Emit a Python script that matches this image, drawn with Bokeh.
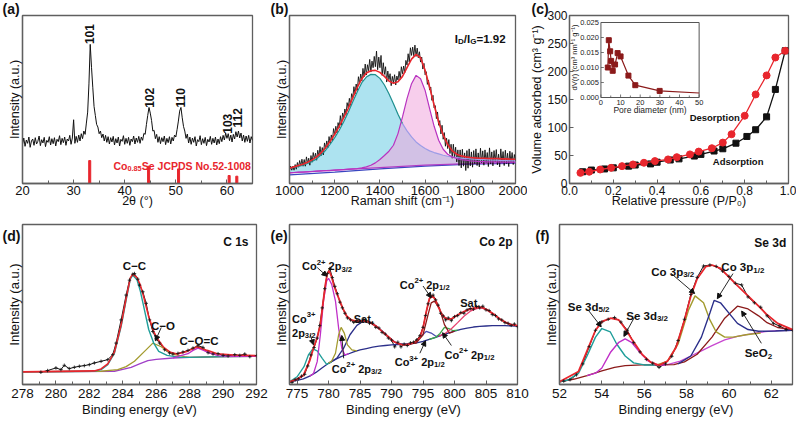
from bokeh.plotting import figure
from bokeh.layouts import row, column
from bokeh.models import FixedTicker, Label, Arrow, NormalHead, PrintfTickFormatter, Range1d
from bokeh.core.properties import value
from bokeh.embed import file_html
from bokeh.resources import INLINE

FONT = "Liberation Sans"
FRAME = "#5f5f5f"
RED = "#e8262d"

# ---------------- (a) XRD ----------------
XRD_START = 20.0
XRD_STEP = 0.25
XRD_INTENSITY = [
    118,137,112,131,121,140,109,128,134,115,138,119,127,143,114,132,122,139,111,130,
    124,141,116,135,120,138,113,133,126,144,117,136,123,140,115,134,128,145,118,137,
    192,121,142,124,146,128,150,135,158,148,182,215,300,419,350,290,232,205,178,170,
    150,158,138,149,128,145,124,141,119,138,125,142,116,135,122,140,113,133,127,144,
    118,136,121,139,115,134,126,143,119,137,124,142,121,140,130,151,148,178,205,229,
    212,190,158,160,135,148,124,141,120,138,126,143,117,136,123,141,119,139,128,146,
    140,163,188,218,229,198,172,158,136,149,122,140,118,137,124,141,113,132,126,144,
    117,135,121,139,114,133,125,142,118,136,122,140,116,134,120,141,126,145,131,152,
    136,150,129,146,125,148,134,156,140,158,137,152,128,146,124,143,127,145,122,141,
    130]
REF_2THETA = [33.15, 44.67, 50.53, 60.43, 61.93]
REF_HEIGHT = [69, 52, 44, 24, 22]
HKL = ["101", "102", "110", "103", "112"]
HKL_X = [33.1, 44.85, 50.9, 60.1, 62.1]
HKL_Y = [450, 258, 258, 180, 198]

# ---------------- (b) Raman ----------------
RAMAN_START = 1000
RAMAN_STEP = 5
RAMAN_INTENSITY = [
    40,52,40,52,40,57,43,63,49,69,53,73,52,72,52,80,60,76,55,84,
    64,93,73,91,70,100,81,111,84,108,86,122,105,128,108,141,121,146,128,165,
    146,172,152,183,168,204,176,212,197,224,207,243,227,256,235,270,256,291,269,299,
    280,321,299,329,308,346,321,359,326,357,339,373,335,368,348,382,351,398,342,380,
    348,385,325,363,328,351,305,338,312,330,294,322,303,327,296,323,311,337,313,351,
    330,353,333,370,356,390,365,408,385,410,384,416,382,407,378,396,365,380,344,361,
    327,336,298,311,281,290,250,265,227,234,195,215,175,189,149,175,133,153,112,136,
    105,132,90,118,76,118,79,109,65,101,54,101,47,103,52,92,39,99,46,104,
    53,95,49,99,59,104,54,92,50,106,62,98,55,101,63,93,51,107,59,95,
    53,99,65,102,56,88,50,104,62,96,54,100,60,91,51,97,63,93,57,87,
    67]
FIT_START = 1000
FIT_STEP = 20
D_BAND = [45,48,51,55,60,66,74,86,100,118,138,160,186,214,246,276,303,320,328,327,
          316,296,270,240,208,180,158,140,125,114,105,98,93,89,85,82,80,78,76,75,
          74,73,72,72,71,70,70,69,69,68,68]
G_BAND = [32,33,34,34,35,36,37,38,39,39,40,41,42,43,44,45,47,50,55,62,
          72,84,97,115,150,200,255,300,325,315,280,225,172,130,103,88,80,75,72,70,
          68,67,66,66,65,65,65,64,64,64,64]
RAMAN_FIT = [46,50,54,58,64,71,80,92,108,127,148,172,198,226,258,289,315,332,339,340,
             334,322,308,301,306,322,348,374,388,378,340,290,235,185,146,117,98,88,83,80,
             78,77,76,76,75,75,75,74,74,73,73]
BG_SHIFT = [1000, 1200, 1400, 1600, 1800, 2000]
BG_MAGENTA = [32, 40, 48, 55, 60, 63]
BG_BLUE = [26, 34, 44, 52, 58, 61]

# ---------------- (c) N2 isotherm ----------------
ADS_P = [0.06,0.10,0.16,0.20,0.27,0.30,0.37,0.40,0.46,0.50,0.57,0.60,0.66,0.70,0.76,0.81,0.85,0.90,0.94,0.985]
ADS_V = [21,24,26,28,31,33,35,38,42,44,49,52,58,62,72,84,96,119,168,237]
DES_P = [0.05,0.09,0.14,0.19,0.24,0.29,0.34,0.39,0.45,0.49,0.55,0.59,0.65,0.70,0.74,0.80,0.85,0.90,0.94,0.985]
DES_V = [19,21,25,28,31,34,37,40,43,47,52,57,63,73,88,121,159,193,225,237]
PORE_D = [3.5,4.0,4.7,5.2,6.0,7.2,8.5,10.0,14.0,17.5,29.9,50.0]
PORE_DV = [0.0100,0.0191,0.0154,0.0122,0.0089,0.0110,0.0148,0.0137,0.0073,0.0041,0.0022,0.0015]
INSET_XTICKS = [0, 10, 20, 30, 40, 50]
INSET_XLABELS = ["0", "10", "20", "30", "40", "50"]
INSET_YTICKS = [0.0, 0.005, 0.010, 0.015, 0.020, 0.025]
INSET_YLABELS = ["0.000", "0.005", "0.010", "0.015", "0.020", "0.025"]

# ---------------- (d) C 1s ----------------
D_BG_X = [278,283.5,284,284.5,285,285.5,286,287,288,290,292]
D_BG_Y = [38,40,46,52,62,72,76,80,82,84,85]
D_CC_X = [278,282.3,282.7,283.1,283.5,283.9,284.2,284.45,284.6,284.85,285.05,285.25,285.55,285.85,286.15,286.65,287.45,288,290,292]
D_CC_Y = [38,40,45,60,95,175,255,318,330,316,282,236,166,125,100,88,82,82,84,85]
D_CO_X = [278,282.7,283.7,284.2,284.7,285.3,285.8,286.3,286.7,287.1,287.7,288,290,292]
D_CO_Y = [38,40,45,54,70,100,125,114,100,90,84,82,84,85]
D_COC_X = [287,287.3,287.9,288.2,288.5,288.8,289.1,289.7,290.3,292]
D_COC_Y = [80,85,93,103,110,104,97,87,85,85]
D_FIT_X = [278,282.3,282.7,283.1,283.5,283.9,284.2,284.45,284.6,284.85,285.05,285.25,285.55,285.85,286.05,286.45,286.85,287.25,287.85,288.45,289.05,289.65,290.65,292]
D_FIT_Y = [38,41,47,62,98,180,260,322,333,323,300,265,205,160,140,112,97,92,100,114,103,93,89,87]
D_EXP_X = [279.1,279.5,280.0,280.3,280.5,280.8,281.1,281.4,281.7,282.0,282.3,282.7,283.1,283.4,283.6,283.9,284.2,284.4,284.6,284.7,
           284.9,285.0,285.2,285.4,285.6,285.8,286.0,286.2,286.5,286.8,287.0,287.3,287.6,287.9,288.2,288.5,288.8,289.1,289.4,289.7,
           290.0,290.3,290.7,291.0,291.3,291.6,292.0]
D_EXP_Y = [37,42,50,45,58,48,52,55,57,60,65,70,75,90,125,195,270,315,333,335,
           318,300,280,245,195,160,138,125,105,95,92,94,98,103,110,117,112,96,92,93,
           88,86,90,88,92,84,87]

# ---------------- (e) Co 2p ----------------
E_BG_X = [773.8,775,776,777,778,779,780,781,782,783,784,785,786,787,788,789,790,791,792,793,794,795,796,797,798,799,800,801,802,803,804,805,806,808,810]
E_BG_Y = [8,12,17,25,36,50,63,74,83,90,97,103,107,111,114,116,118,119,120,121,124,128,134,140,147,153,159,164,168,171,173,174,175,175,174]
E_SAT1_X = [780,781,781.3,782.4,783.4,784.5,785.5,786.6,787.6,788.7,789.7,790.8,791.8,793]
E_SAT1_Y = [63,74,78,108,148,176,188,186,173,156,138,123,119,121]
E_CO3A_X = [773.8,775,776.1,776.8,777.5,778.2,779,779.7,780.5]
E_CO3A_Y = [8,23,53,88,106,100,78,60,68]
E_CO2A_X = [777,777.6,778.2,778.7,779.2,779.7,780,780.5,781.1,781.6,782.1,782.6,783.2]
E_CO2A_Y = [25,32,68,148,248,308,316,298,248,168,108,88,92]
E_CO2B_X = [780,780.5,781.1,781.6,782,782.5,783,783.7,784.5]
E_CO2B_Y = [63,70,93,148,170,153,118,103,100]
E_CO2C_X = [792.5,793.9,795,795.8,796.3,796.8,797.6,798.4,799.2,800]
E_CO2C_Y = [120,123,148,208,243,248,228,178,153,159]
E_CO3B_X = [793,793.9,794.7,795.5,796.3,797.1,798]
E_CO3B_Y = [121,126,143,158,153,143,147]
E_CO2D_X = [796,797,797.7,798.4,799.1,799.8,800.5]
E_CO2D_Y = [134,140,152,170,166,160,162]
E_SAT2_X = [797.5,798.5,799.5,800.5,801.5,802.5,803.5,804.3,805.2,806.2,807.2,808.2,809,810]
E_SAT2_Y = [143,152,166,184,203,218,226,228,221,209,195,184,178,175]
E_FIT_X = [773.8,775,776,777,777.6,778.2,778.7,779.1,779.5,779.8,780.1,780.5,780.8,781.3,781.8,782.3,782.9,783.6,784.5,785.5,
           786.5,787.6,788.5,789.5,790.3,791.2,791.8,792.8,793.9,794.5,795,795.5,796,796.4,796.9,797.4,797.9,798.4,799,799.6,
           800.4,801.5,802.5,803.5,804.3,805.2,806.2,807.2,808.2,809,810]
E_FIT_Y = [8,16,27,70,108,140,178,240,298,330,338,320,298,272,248,225,203,192,188,190,
           185,173,158,142,128,121,118,119,128,140,168,215,255,264,255,232,212,200,194,196,
           206,217,225,229,230,222,210,195,184,178,175]
E_EXP_X = [774.2,774.7,775.2,775.7,776.2,776.7,777.2,777.7,778.2,778.6,779.0,779.4,779.8,780.2,780.6,781.0,781.4,781.8,782.2,782.6,
           783.0,783.5,784.0,784.5,785.0,785.5,786.0,786.5,787.0,787.5,788.0,788.5,789.0,789.5,790.0,790.5,791.0,791.5,792.0,792.5,
           793.0,793.5,794.0,794.5,795.0,795.4,795.8,796.2,796.6,797.0,797.4,797.8,798.2,798.6,799.0,799.5,800.0,800.5,801.0,801.5,
           802.0,802.5,803.0,803.5,804.0,804.5,805.0,805.5,806.0,806.5,807.0,807.5,808.0,808.5,809.0,809.5,810.0]
E_EXP_Y = [6,14,17,25,30,55,88,110,138,175,228,285,330,345,318,292,270,245,228,212,
           198,192,185,190,186,194,190,182,182,170,168,155,150,138,132,112,126,112,120,116,
           124,126,133,145,170,205,240,262,266,252,236,212,204,192,198,190,202,205,214,212,
           222,226,224,232,228,233,222,220,208,205,195,192,184,182,176,180,172]

# ---------------- (f) Se 3d ----------------
F_BG_X = [52,52.7,53.3,54,54.6,55.1,55.9,56.6,57.4,57.9,58.5,59.2,59.8,60.4,60.9,61.4,61.8,62.3,63]
F_BG_Y = [8,16,26,40,50,55,57,57,58,66,88,138,193,228,220,200,180,166,160]
F_BG2_X = [56.4,57.1,57.7,58.2,58.7,59.2,59.8,60.4,61.1,61.7,62.3,63]
F_BG2_Y = [57,58,68,83,98,113,130,140,148,154,157,158]
F_SE52_X = [52,52.4,52.9,53.3,53.7,54,54.4,54.7,55.1,55.5,56,56.5]
F_SE52_Y = [8,13,33,83,138,163,153,118,83,63,57,57]
F_SE32_X = [53.3,53.7,54,54.4,54.8,55.1,55.4,55.8,56.2,56.6,57]
F_SE32_Y = [26,33,48,93,123,133,123,93,68,58,57]
F_CO32_X = [56.6,57.1,57.6,58.1,58.4,58.8,59.1,59.4,59.8,60.2,60.8,61.5]
F_CO32_Y = [57,68,118,218,258,238,188,153,138,138,145,150]
F_CO12_X = [57.6,58.2,58.7,59.1,59.3,59.6,60,60.4,60.9,61.4,62.2,63]
F_CO12_Y = [60,83,138,208,245,238,208,178,160,155,156,158]
F_FIT_X = [52,52.9,53.3,53.7,54,54.4,54.8,55.1,55.4,55.9,56.3,56.7,57.1,57.5,57.9,58.2,58.5,58.9,59.2,59.6,60,60.4,60.9,61.4,61.8,62.3,63]
F_FIT_Y = [8,38,98,158,183,193,188,163,133,88,65,56,68,108,188,258,308,343,348,338,313,288,258,228,203,178,160]
F_EXP_X = [52.2,52.5,52.8,53.1,53.4,53.7,54.0,54.3,54.6,54.9,55.2,55.5,55.8,56.1,56.4,56.7,57.0,57.3,57.6,57.9,
           58.2,58.5,58.8,59.1,59.4,59.7,60.0,60.3,60.6,60.9,61.2,61.5,61.8,62.1,62.4,62.7,63.0]
F_EXP_Y = [10,14,28,60,110,158,182,190,195,182,158,122,95,73,62,50,60,82,128,190,
           262,312,345,348,344,330,315,295,290,255,238,225,200,178,170,160,158]

PANEL_TAGS = ["(a)", "(b)", "(c)", "(d)", "(e)", "(f)"]

# ---------------- helpers ----------------
_W_REG = dict(zip("abcdefghijklmnopqrstuvwxyz", [556,556,500,556,556,278,556,556,222,222,500,222,833,556,556,556,556,333,500,278,556,500,722,500,500,500]))
_W_REG.update(zip("ABCDEFGHIJKLMNOPQRSTUVWXYZ", [667,667,722,722,667,611,778,722,278,500,667,556,833,722,778,667,778,722,667,611,722,667,944,667,667,611]))
_W_BOLD = dict(zip("abcdefghijklmnopqrstuvwxyz", [556,611,556,611,556,333,611,611,278,278,556,278,889,611,611,611,611,389,556,333,611,556,778,556,556,500]))
_W_BOLD.update(zip("ABCDEFGHIJKLMNOPQRSTUVWXYZ", [722,722,722,722,667,611,778,722,278,556,722,611,833,722,778,667,778,722,667,611,722,667,944,667,667,611]))
for _d in (_W_REG, _W_BOLD):
    _d.update({c: 556 for c in "0123456789"})
    _d.update({' ': 278, '.': 278, '/': 278, '(': 333, ')': 333, '+': 584, '=': 584, '\u2212': 584, '-': 333})


def twidth(s, fs, bold):
    t = _W_BOLD if bold else _W_REG
    return sum(t.get(ch, 580) for ch in s) * fs / 1000.0


def rich(p, x, y, segs, fs=11, bold=True, color="#111111", align="left", **kw):
    sizes = [fs if k == "n" else fs * 0.7 for _, k in segs]
    widths = [twidth(t, s, bold) for (t, _), s in zip(segs, sizes)]
    total = sum(widths)
    cx = {"left": 0.0, "center": -total / 2, "right": -total}[align]
    for (t, k), s, w in zip(segs, sizes, widths):
        lead = len(t) - len(t.lstrip(" "))
        core = t.strip(" ")
        dy = {"n": 0.0, "sub": -0.24 * fs, "sup": 0.38 * fs}[k] - 0.36 * fs
        if core:
            p.add_layout(Label(x=x, y=y, x_offset=cx + twidth(" " * lead, s, bold), y_offset=dy, text=core,
                               text_font=FONT, text_font_size=f"{s:.1f}px",
                               text_font_style="bold" if bold else "normal",
                               text_color=color, text_align="left", text_baseline="alphabetic", **kw))
        cx += w


def arrow(p, x0, y0, x1, y1):
    p.add_layout(Arrow(end=NormalHead(size=5, line_color="#111111", fill_color="#111111", line_width=1),
                       x_start=x0, y_start=y0, x_end=x1, y_end=y1, line_color="#111111", line_width=0.9))


def panel_tag(p, txt, offset, standoff, valign="bottom", blank_lines=0):
    # the panel letter is the figure's own title, pulled left of the frame
    p.title.text = "\n" * blank_lines + txt
    p.title.align = "left"
    p.title.offset = offset
    p.title.standoff = standoff
    p.title.vertical_align = valign
    p.title.text_line_height = 1.0
    p.title.text_font = FONT
    p.title.text_font_size = "14px"
    p.title.text_font_style = "bold"
    p.title.text_color = "#111111"


def make_fig(w, h, xr, yr, bl, br, bt, bb):
    p = figure(width=w, height=h, x_range=Range1d(*xr), y_range=Range1d(*yr), output_backend="svg",
               toolbar_location=None, min_border_left=bl, min_border_right=br,
               min_border_top=bt, min_border_bottom=bb)
    p.outline_line_color = FRAME
    p.outline_line_width = 1.3
    p.xgrid.visible = False
    p.ygrid.visible = False
    p.background_fill_color = "white"
    p.border_fill_color = "white"
    return p


def style(p, tick_fs, title_fs, xticks, xminor, yticks=None, yminor=None, xstand=2, xlab_stand=1):
    p.xaxis.ticker = FixedTicker(ticks=xticks, minor_ticks=xminor)
    p.yaxis.ticker = FixedTicker(ticks=yticks or [], minor_ticks=yminor or [])
    for ax in list(p.xaxis) + list(p.yaxis):
        ax.axis_line_color = FRAME
        ax.axis_line_width = 1.3
        ax.major_tick_in = 4
        ax.major_tick_out = 0
        ax.minor_tick_in = 3
        ax.minor_tick_out = 0
        ax.major_tick_line_color = FRAME
        ax.minor_tick_line_color = FRAME
        ax.major_label_text_font = FONT
        ax.major_label_text_font_size = f"{tick_fs}px"
        ax.major_label_text_color = "#111111"
        ax.axis_label_text_font = FONT
        ax.axis_label_text_font_size = f"{title_fs}px"
        ax.axis_label_text_font_style = "normal"
        ax.axis_label_text_color = "#111111"
        ax.major_label_standoff = 2
        ax.axis_label_standoff = 1
    p.xaxis.major_label_standoff = xstand
    p.xaxis.axis_label_standoff = xlab_stand


def plain(p, x, y, txt, fs, bold=True, color="#111111", align="center", angle=0, **kw):
    p.add_layout(Label(x=x, y=y, text=txt, text_font=FONT, text_font_size=f"{fs}px",
                       text_font_style="bold" if bold else "normal", text_color=color,
                       text_align=align, text_baseline="middle", angle=angle, angle_units="deg", **kw))


# ================= (a) =================
pa = make_fig(270, 215, (20, 65), (0, 506), 22, 18, 15, 32)
style(pa, 13, 12.5, [20, 30, 40, 50, 60], [25, 35, 45, 55, 65], xlab_stand=-4)
pa.xaxis.axis_label = "2θ (°)"
pa.yaxis.axis_label = "Intensity (a.u.)"
xrd_x = [XRD_START + XRD_STEP * i for i in range(len(XRD_INTENSITY))]
pa.line(xrd_x, XRD_INTENSITY, line_color="#111111", line_width=1.0)
pa.vbar(x=REF_2THETA, top=REF_HEIGHT, bottom=0, width=0.4, fill_color=RED, line_color=RED)
for t, x, y in zip(HKL, HKL_X, HKL_Y):
    plain(pa, x, y, t, 12, angle=90)
rich(pa, 37.8, 64, [("Co", "n"), ("0.85", "sub"), ("Se JCPDS No.52-1008", "n")], fs=10.5, color=RED)
panel_tag(pa, PANEL_TAGS[0], -20, -3)

# ================= (b) =================
pb = make_fig(257, 215, (1000, 2000), (0, 505), 19, 12, 15, 32)
style(pb, 13, 12.5, [1000, 1200, 1400, 1600, 1800, 2000], [1100, 1300, 1500, 1700, 1900], xlab_stand=-4)
pb.xaxis.axis_label = "Raman shift (cm⁻¹)"
pb.yaxis.axis_label = "Intensity (a.u.)"
fit_x = [FIT_START + FIT_STEP * i for i in range(len(D_BAND))]
bg_rev_x = BG_SHIFT[::-1]
bg_rev_y = BG_MAGENTA[::-1]
pb.patch(fit_x + bg_rev_x, D_BAND + bg_rev_y, fill_color="#8ed8ea", fill_alpha=0.72, line_alpha=0)
pb.patch(fit_x + bg_rev_x, G_BAND + bg_rev_y, fill_color="#f0a6dc", fill_alpha=0.55, line_alpha=0)
pb.line(BG_SHIFT, BG_BLUE, line_color="#3a46c0", line_width=1.3)
pb.line(BG_SHIFT, BG_MAGENTA, line_color="#b03cc4", line_width=1.3)
raman_x = [RAMAN_START + RAMAN_STEP * i for i in range(len(RAMAN_INTENSITY))]
pb.line(raman_x, RAMAN_INTENSITY, line_color="#111111", line_width=0.9)
pb.line(fit_x[:26], D_BAND[:26], line_color="#1f8f8f", line_width=1.2)
pb.line(fit_x[25:], D_BAND[25:], line_color="#9c9ce6", line_width=1.2)
pb.line(fit_x, G_BAND, line_color="#b833c0", line_width=1.2)
pb.line(fit_x, RAMAN_FIT, line_color=RED, line_width=1.6)
rich(pb, 1956, 448, [("I", "n"), ("D", "sub"), ("/I", "n"), ("G", "sub"), ("=1.92", "n")], fs=11.5, align="right")
panel_tag(pb, PANEL_TAGS[1], -19, -3)

# ================= (c) =================
pc = make_fig(269, 215, (0, 1), (0, 300), 38, 8, 15, 32)
style(pc, 12, 12.5, [0, 0.2, 0.4, 0.6, 0.8, 1.0], [0.1, 0.3, 0.5, 0.7, 0.9],
      [0, 50, 100, 150, 200, 250, 300], [], xlab_stand=-4)
pc.yaxis.axis_label_standoff = 0
pc.xaxis.formatter = PrintfTickFormatter(format="%.1f")
pc.xaxis.axis_label = "Relative pressure (P/P₀)"
pc.yaxis.axis_label = "Volume adsorbed (cm³ g⁻¹)"
pc.line(ADS_P, ADS_V, line_color="#111111", line_width=1.3)
pc.scatter(ADS_P, ADS_V, marker="square", size=6, fill_color="#111111", line_color="#111111")
pc.line(DES_P, DES_V, line_color=RED, line_width=1.3)
pc.scatter(DES_P, DES_V, marker="circle", size=7, fill_color=RED, line_color=RED)
plain(pc, 0.663, 117, "Desorption", 9.5)
plain(pc, 0.770, 40, "Adsorption", 9.5)
panel_tag(pc, PANEL_TAGS[2], -38, -3)

# inset drawn through its own extra ranges (inset box: 32..132 px across, 7..82 px down in a 223x168 frame)
FW, FH = 223, 168
IL, IR, IT, IB = 32, 132, 7, 82
kx = 50.0 / (IR - IL)
ky = 0.025 / (IB - IT)
pc.extra_x_ranges = {"ix": Range1d(-IL * kx, 50 + (FW - IR) * kx)}
pc.extra_y_ranges = {"iy": Range1d(-(FH - IB) * ky, 0.025 + IT * ky)}
ins = dict(x_range_name="ix", y_range_name="iy")
pc.quad(left=0, right=50, bottom=0, top=0.025, fill_color="white", line_color="#555555", line_width=1, **ins)
tick_x = [5 * i for i in range(11)]
pc.segment(x0=tick_x, y0=[0] * 11, x1=tick_x, y1=[(3 if t % 10 == 0 else 2) * ky for t in tick_x],
           line_color="#555555", line_width=0.8, **ins)
pc.segment(x0=[0] * 6, y0=INSET_YTICKS, x1=[1.5] * 6, y1=INSET_YTICKS, line_color="#555555", line_width=0.8, **ins)
pc.line(PORE_D, PORE_DV, line_color="#8b1a1a", line_width=1.2, **ins)
pc.scatter(PORE_D[:-1], PORE_DV[:-1], marker="square", size=5, fill_color="#8b1a1a", line_color="#8b1a1a", **ins)
pc.text(x=INSET_XTICKS, y=[-2 * ky] * 6, text=INSET_XLABELS, text_font=value(FONT), text_font_size="7.5px",
        text_align="center", text_baseline="top", text_color="#222222", **ins)
pc.text(x=[-2 * kx] * 6, y=INSET_YTICKS, text=INSET_YLABELS, text_font=value(FONT), text_font_size="7.5px",
        text_align="right", text_baseline="middle", text_color="#222222", **ins)
plain(pc, 25, -12 * ky, "Pore diameter (nm)", 8.5, bold=False, color="#222222", **ins)
plain(pc, -27 * kx, 40 * ky, "dV(r) (cm³ nm⁻¹ g⁻¹)", 7.5, bold=False, color="#222222", angle=90, **ins)

# ================= (d) =================
pd_ = make_fig(270, 206, (278, 292), (0, 483), 22, 14, 9, 37)
style(pd_, 13.5, 13, list(range(278, 293, 2)), list(range(279, 292, 2)), xstand=4)
pd_.xaxis.axis_label = "Binding energy (eV)"
pd_.yaxis.axis_label = "Intensity (a.u.)"
pd_.line(D_EXP_X, D_EXP_Y, line_color="#111111", line_width=1)
pd_.line(D_BG_X, D_BG_Y, line_color="#a040c8", line_width=1.3)
pd_.line(D_CO_X, D_CO_Y, line_color="#a39b2f", line_width=1.3)
pd_.line(D_CC_X, D_CC_Y, line_color="#1f9e9a", line_width=1.4)
pd_.line(D_COC_X, D_COC_Y, line_color="#c030c8", line_width=1.3)
pd_.line(D_FIT_X, D_FIT_Y, line_color=RED, line_width=1.6)
pd_.scatter(D_EXP_X, D_EXP_Y, marker="cross", size=3.5, line_color="#111111", line_width=0.8)
rich(pd_, 291.52, 444, [("C 1s", "n")], fs=12, align="right")
rich(pd_, 284.70, 370, [("C\u2212C", "n")], fs=11.5, align="center")
rich(pd_, 286.41, 190, [("C\u2212O", "n")], fs=11.5, align="center")
rich(pd_, 288.56, 145, [("C\u2212O=C", "n")], fs=11.5, align="center")
arrow(pd_, 286.30, 172, 285.95, 132)
panel_tag(pd_, PANEL_TAGS[3], -20, -42, valign="top", blank_lines=2)

# ================= (e) =================
pe = make_fig(265, 206, (773.8, 810), (0, 476), 19, 18, 9, 37)
style(pe, 13.5, 13, list(range(775, 811, 5)), [], xstand=4)
pe.xaxis.axis_label = "Binding energy (eV)"
pe.yaxis.axis_label = "Intensity (a.u.)"
pe.line(E_EXP_X, E_EXP_Y, line_color="#111111", line_width=1)
pe.line(E_BG_X, E_BG_Y, line_color="#2b2f8a", line_width=1.3)
pe.line(E_SAT1_X, E_SAT1_Y, line_color="#2b2f8a", line_width=1.3)
pe.line(E_CO3A_X, E_CO3A_Y, line_color="#1f9e9a", line_width=1.3)
pe.line(E_CO2A_X, E_CO2A_Y, line_color="#c030c8", line_width=1.3)
pe.line(E_CO2B_X, E_CO2B_Y, line_color="#a39b2f", line_width=1.3)
pe.line(E_CO3B_X, E_CO3B_Y, line_color="#4a4ab0", line_width=1.3)
pe.line(E_CO2D_X, E_CO2D_Y, line_color="#3aa84a", line_width=1.3)
pe.line(E_CO2C_X, E_CO2C_Y, line_color="#8b1a1a", line_width=1.3)
pe.line(E_SAT2_X, E_SAT2_Y, line_color="#e8406e", line_width=1.3)
pe.line(E_FIT_X, E_FIT_Y, line_color=RED, line_width=1.8)
pe.scatter(E_EXP_X, E_EXP_Y, marker="cross", size=3.5, line_color="#111111", line_width=0.8)
rich(pe, 809.2, 437, [("Co 2p", "n")], fs=12, align="right")
rich(pe, 775.8, 363, [("Co", "n"), ("2+", "sup"), (" 2p", "n"), ("3/2", "sub")], fs=11)
arrow(pe, 778.2, 348, 779.75, 322)
rich(pe, 774.2, 208, [("Co", "n"), ("3+", "sup")], fs=11)
rich(pe, 774.2, 166, [("2p", "n"), ("3/2", "sub")], fs=11)
arrow(pe, 777.1, 148, 777.6, 118)
rich(pe, 785.6, 208, [("Sat.", "n")], fs=11, align="center")
rich(pe, 780.5, 58, [("Co", "n"), ("2+", "sup"), (" 2p", "n"), ("3/2", "sub")], fs=11)
arrow(pe, 782.4, 78, 782.1, 146)
rich(pe, 791.3, 308, [("Co", "n"), ("2+", "sup"), (" 2p", "n"), ("1/2", "sub")], fs=11)
arrow(pe, 795.0, 293, 796.3, 258)
rich(pe, 802.5, 253, [("Sat.", "n")], fs=11, align="center")
rich(pe, 790.5, 78, [("Co", "n"), ("3+", "sup"), (" 2p", "n"), ("1/2", "sub")], fs=11)
arrow(pe, 794.5, 93, 795.4, 130)
rich(pe, 798.4, 101, [("Co", "n"), ("2+", "sup"), (" 2p", "n"), ("1/2", "sub")], fs=11)
arrow(pe, 799.5, 116, 798.1, 154)
panel_tag(pe, PANEL_TAGS[4], -19, -42, valign="top", blank_lines=2)

# ================= (f) =================
pf = make_fig(261, 206, (52, 63), (0, 466), 24, 4, 9, 37)
style(pf, 13.5, 13, list(range(52, 63, 2)), list(range(53, 64, 2)), xstand=4)
pf.xaxis.axis_label = "Binding energy (eV)"
pf.yaxis.axis_label = "Intensity (a.u.)"
pf.line(F_EXP_X, F_EXP_Y, line_color="#111111", line_width=1)
pf.line(F_BG2_X, F_BG2_Y, line_color="#c848d0", line_width=1.3)
pf.line(F_BG_X, F_BG_Y, line_color="#8b1a1a", line_width=1.3)
pf.line(F_SE52_X, F_SE52_Y, line_color="#1f9e9a", line_width=1.4)
pf.line(F_SE32_X, F_SE32_Y, line_color="#c030c8", line_width=1.4)
pf.line(F_CO32_X, F_CO32_Y, line_color="#a39b2f", line_width=1.4)
pf.line(F_CO12_X, F_CO12_Y, line_color="#2b2f8a", line_width=1.4)
pf.line(F_FIT_X, F_FIT_Y, line_color=RED, line_width=1.8)
pf.scatter(F_EXP_X, F_EXP_Y, marker="cross", size=3.5, line_color="#111111", line_width=0.8)
rich(pf, 62.71, 426, [("Se 3d", "n")], fs=12, align="right")
rich(pf, 56.33, 340, [("Co 3p", "n"), ("3/2", "sub")], fs=11.5)
arrow(pf, 57.28, 323, 58.38, 265)
rich(pf, 59.64, 353, [("Co 3p", "n"), ("1/2", "sub")], fs=11.5)
arrow(pf, 60.19, 323, 59.45, 250)
rich(pf, 52.39, 238, [("Se 3d", "n"), ("5/2", "sub")], fs=11.5)
arrow(pf, 53.34, 218, 53.97, 168)
rich(pf, 55.15, 213, [("Se 3d", "n"), ("3/2", "sub")], fs=11.5)
arrow(pf, 55.54, 196, 55.04, 140)
rich(pf, 60.74, 103, [("SeO", "n"), ("2", "sub")], fs=11.5)
arrow(pf, 61.53, 120, 60.6, 214)
panel_tag(pf, PANEL_TAGS[5], -24, -42, valign="top", blank_lines=2)

layout = column(row(pa, pb, pc), row(pd_, pe, pf))
open("out.html", "w").write(file_html(layout, INLINE))
